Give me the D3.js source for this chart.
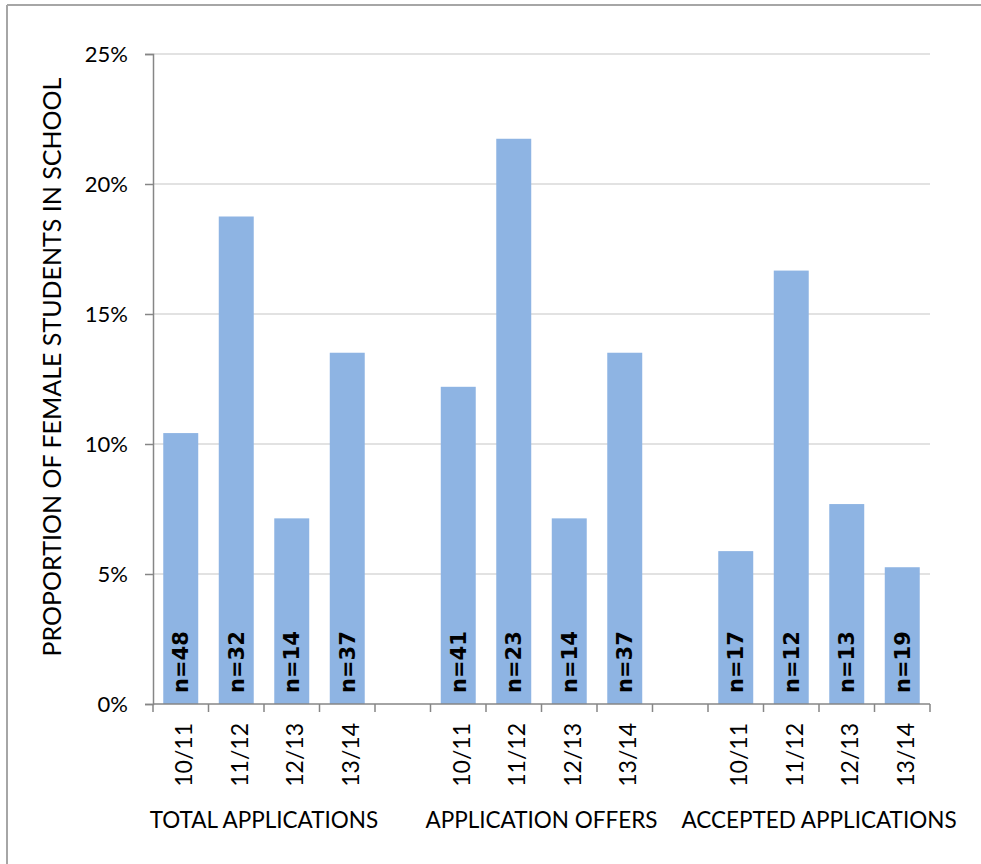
<!DOCTYPE html>
<html>
<head>
<meta charset="utf-8">
<style>
  body { margin: 0; background: #fff; }
  svg { display: block; }
</style>
</head>
<body>
<div id="container"></div>
<script src="https://cdn.jsdelivr.net/npm/d3@7"></script>
<script>
// Data
const years = ["10/11", "11/12", "12/13", "13/14"];
const groups = ["TOTAL APPLICATIONS", "APPLICATION OFFERS", "ACCEPTED APPLICATIONS"];
const totalApps = [0.1042, 0.1875, 0.0714, 0.1351];
const appOffers = [0.1220, 0.2174, 0.0714, 0.1351];
const acceptedApps = [0.0588, 0.1667, 0.0769, 0.0526];
const totalN = [48, 32, 14, 37];
const offersN = [41, 23, 14, 37];
const acceptedN = [17, 12, 13, 19];
const yTicks = [0, 0.05, 0.10, 0.15, 0.20, 0.25];

const seriesVals = [totalApps, appOffers, acceptedApps];
const seriesN = [totalN, offersN, acceptedN];

// one slot per bar, plus an empty slot between groups
let slots = [];
let bars = [];
groups.forEach((g, gi) => {
  years.forEach((yr, yi) => {
    let key = g + "|" + yr;
    slots.push(key);
    bars.push({ key: key, group: g, year: yr, value: seriesVals[gi][yi], n: seriesN[gi][yi] });
  });
  if (gi < groups.length - 1) slots.push("gap" + gi);
});

const width = 981, height = 864;
const margin = { top: 54, right: 51, bottom: 160, left: 153 };

let svg = d3.select("#container")
  .append("svg")
  .attr("width", width)
  .attr("height", height);

// outer frame (partially visible in the reference)
svg.append("line").attr("x1", 7).attr("x2", width).attr("y1", 5).attr("y2", 5)
  .style("stroke", "#a6a6a6").style("stroke-width", 2);
svg.append("line").attr("x1", 7).attr("x2", 7).attr("y1", 5).attr("y2", height)
  .style("stroke", "#a6a6a6").style("stroke-width", 2);

let x = d3.scaleBand()
  .domain(slots)
  .range([margin.left, width - margin.right])
  .paddingInner(0)
  .paddingOuter(0);

let y = d3.scaleLinear()
  .domain([0, 0.25])
  .range([height - margin.bottom, margin.top]);

const font = "Lato, 'Noto Sans', sans-serif";
const axisColor = "#868686";

// gridlines
svg.append("g")
  .selectAll("line")
  .data(yTicks.filter(d => d > 0))
  .enter()
  .append("line")
  .attr("x1", margin.left)
  .attr("x2", width - margin.right)
  .attr("y1", d => y(d))
  .attr("y2", d => y(d))
  .style("stroke", "#d9d9d9")
  .style("stroke-width", 1.5);

// bars
let bw = x.bandwidth() * 0.63;
svg.append("g")
  .selectAll("rect")
  .data(bars)
  .enter()
  .append("rect")
  .attr("x", d => x(d.key) + (x.bandwidth() - bw) / 2)
  .attr("width", bw)
  .attr("y", d => y(d.value))
  .attr("height", d => y(0) - y(d.value))
  .style("fill", "#8eb4e3");

// n labels inside bars
svg.append("g")
  .selectAll("text")
  .data(bars)
  .enter()
  .append("text")
  .attr("transform", d => `translate(${x(d.key) + x.bandwidth() / 2}, ${y(0) - 11}) rotate(-90)`)
  .attr("dy", "0.36em")
  .style("font-family", "'DejaVu Sans', sans-serif")
  .style("font-weight", "bold")
  .style("font-size", "21px")
  .style("fill", "#000")
  .text(d => "n=" + d.n);

// y axis
let yAxis = svg.append("g")
  .attr("transform", `translate(${margin.left},0)`)
  .call(d3.axisLeft(y).tickValues(yTicks).tickFormat(d3.format(".0%")).tickSize(8).tickPadding(17));
yAxis.select(".domain").style("stroke", axisColor).style("stroke-width", 1.5);
yAxis.selectAll(".tick line").style("stroke", axisColor).style("stroke-width", 1.5);
yAxis.selectAll(".tick text")
  .style("font-family", font)
  .style("font-size", "22px")
  .style("fill", "#000");

// x axis line and boundary ticks
let xg = svg.append("g");
xg.append("line")
  .attr("x1", margin.left).attr("x2", width - margin.right)
  .attr("y1", y(0)).attr("y2", y(0))
  .style("stroke", axisColor).style("stroke-width", 1.5);
let bounds = slots.map(s => x(s)).concat([x.range()[1]]);
xg.selectAll("line.tk")
  .data(bounds)
  .enter()
  .append("line")
  .attr("class", "tk")
  .attr("x1", d => d).attr("x2", d => d)
  .attr("y1", y(0)).attr("y2", y(0) + 8)
  .style("stroke", axisColor).style("stroke-width", 1.5);

// year labels, rotated
xg.selectAll("text.yr")
  .data(bars)
  .enter()
  .append("text")
  .attr("class", "yr")
  .attr("transform", d => `translate(${x(d.key) + x.bandwidth() / 2 + 3}, ${y(0) + 19}) rotate(-90)`)
  .attr("text-anchor", "end")
  .attr("dy", "0.36em")
  .style("font-family", font)
  .style("font-size", "23px")
  .style("fill", "#000")
  .text(d => d.year);

// group labels
xg.selectAll("text.grp")
  .data(groups)
  .enter()
  .append("text")
  .attr("class", "grp")
  .attr("x", g => (x(g + "|" + years[0]) + x(g + "|" + years[years.length - 1]) + x.bandwidth()) / 2)
  .attr("y", 828)
  .attr("text-anchor", "middle")
  .style("font-family", font)
  .style("font-size", "22.5px")
  .style("fill", "#000")
  .text(g => g);

// y axis title
svg.append("text")
  .attr("transform", `translate(52, 367) rotate(-90)`)
  .attr("text-anchor", "middle")
  .attr("dy", "0.36em")
  .style("font-family", font)
  .style("font-size", "25px")
  .style("fill", "#000")
  .text("PROPORTION OF FEMALE STUDENTS IN SCHOOL");
</script>
</body>
</html>
